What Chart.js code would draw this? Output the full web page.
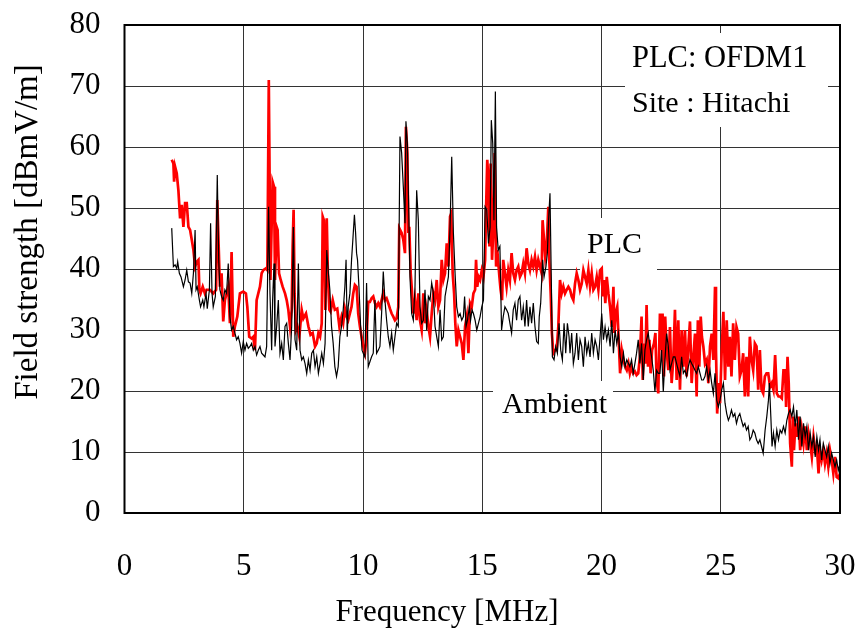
<!DOCTYPE html>
<html>
<head>
<meta charset="utf-8">
<script src="https://cdn.jsdelivr.net/npm/chart.js@4.4.1/dist/chart.umd.min.js"></script>
<style>
html,body{margin:0;padding:0;background:#fff;}
#wrap{width:855px;height:629px;position:relative;}
</style>
</head>
<body>
<div id="wrap"><canvas id="c" width="855" height="629"></canvas></div>
<script>
const xTicks = [0, 5, 10, 15, 20, 25, 30];
const yTicks = [0, 10, 20, 30, 40, 50, 60, 70, 80];

const plcFreq = [1.98,2.05,2.08,2.12,2.19,2.26,2.33,2.40,2.47,2.54,2.61,2.68,2.75,2.82,2.89,2.96,3.03,3.10,3.14,3.19,3.28,3.37,3.44,3.58,3.72,3.84,3.89,4.00,4.07,4.14,4.21,4.28,4.35,4.42,4.49,4.56,4.63,4.73,4.84,4.98,5.09,5.15,5.23,5.33,5.40,5.47,5.54,5.61,5.68,5.75,5.82,5.93,5.99,6.05,6.12,6.21,6.27,6.31,6.38,6.42,6.48,6.55,6.63,6.73,6.80,6.87,6.94,7.01,7.05,7.09,7.13,7.19,7.25,7.33,7.43,7.50,7.61,7.71,7.80,7.89,7.99,8.06,8.13,8.20,8.27,8.31,8.36,8.42,8.48,8.53,8.59,8.64,8.73,8.82,8.92,9.01,9.10,9.17,9.24,9.31,9.38,9.45,9.52,9.59,9.66,9.73,9.80,9.87,9.94,10.01,10.08,10.15,10.22,10.29,10.36,10.43,10.50,10.57,10.64,10.71,10.78,10.85,10.92,10.99,11.06,11.13,11.20,11.27,11.34,11.41,11.48,11.52,11.62,11.69,11.76,11.80,11.86,11.90,11.94,12.00,12.04,12.11,12.18,12.25,12.32,12.39,12.46,12.53,12.60,12.67,12.74,12.81,12.88,12.95,13.02,13.09,13.16,13.23,13.30,13.37,13.44,13.51,13.58,13.65,13.70,13.76,13.82,13.87,13.93,14.00,14.07,14.14,14.21,14.28,14.35,14.42,14.49,14.56,14.63,14.70,14.74,14.79,14.85,14.91,14.98,15.05,15.12,15.16,15.21,15.27,15.30,15.35,15.41,15.46,15.52,15.58,15.63,15.72,15.77,15.83,15.88,15.95,16.02,16.09,16.16,16.23,16.30,16.37,16.44,16.51,16.58,16.65,16.72,16.79,16.86,16.93,17.00,17.07,17.14,17.21,17.28,17.35,17.42,17.49,17.53,17.59,17.64,17.70,17.77,17.81,17.87,17.92,17.98,18.05,18.12,18.19,18.26,18.33,18.40,18.47,18.54,18.61,18.68,18.75,18.82,18.89,18.96,19.03,19.10,19.17,19.24,19.31,19.38,19.45,19.52,19.59,19.66,19.73,19.80,19.87,19.94,20.01,20.05,20.10,20.16,20.22,20.29,20.36,20.43,20.50,20.54,20.59,20.66,20.72,20.78,20.85,20.92,20.99,21.06,21.13,21.19,21.26,21.33,21.40,21.47,21.54,21.61,21.68,21.73,21.78,21.84,21.89,21.95,22.01,22.06,22.12,22.20,22.26,22.31,22.38,22.45,22.52,22.56,22.62,22.67,22.73,22.80,22.87,22.94,23.01,23.08,23.15,23.22,23.29,23.36,23.43,23.50,23.57,23.64,23.71,23.78,23.85,23.92,23.99,24.04,24.10,24.16,24.21,24.27,24.34,24.41,24.48,24.55,24.62,24.69,24.76,24.80,24.85,24.91,24.97,25.04,25.11,25.18,25.25,25.32,25.38,25.45,25.52,25.59,25.66,25.73,25.80,25.87,25.94,26.01,26.08,26.15,26.22,26.29,26.36,26.43,26.50,26.57,26.64,26.71,26.78,26.85,26.92,26.99,27.07,27.14,27.21,27.28,27.35,27.42,27.49,27.56,27.63,27.70,27.74,27.80,27.85,27.91,27.98,28.02,28.07,28.13,28.19,28.26,28.33,28.40,28.47,28.54,28.61,28.68,28.75,28.82,28.89,28.96,29.03,29.10,29.16,29.23,29.30,29.37,29.44,29.51,29.58,29.65,29.72,29.79,29.86,29.93,30.00];
const plcLevel = [57.9,57.3,54.3,56.8,55.7,52.9,48.3,50.5,46.9,50.8,50.8,46.9,46.4,44.8,43.1,40.4,41.2,41.5,36.6,36.0,37.1,36.0,36.6,36.6,36.0,36.6,51.3,37.1,39.3,31.4,34.9,36.0,37.1,31.1,42.8,28.9,30.6,32.2,36.0,36.3,36.0,33.8,28.9,28.6,28.9,26.7,34.9,36.0,37.1,39.3,39.8,40.1,39.8,71.0,38.2,54.3,53.5,38.2,46.9,46.4,39.3,38.2,37.1,36.0,34.9,33.3,30.6,33.3,43.7,49.7,36.0,30.0,30.6,28.9,33.3,31.9,32.7,30.6,29.2,29.5,27.3,27.8,29.5,28.9,31.1,48.6,48.0,33.3,48.3,38.7,33.3,33.0,34.9,33.3,33.5,30.6,32.2,31.1,33.5,32.2,31.6,32.7,33.8,36.0,37.4,37.1,32.7,30.6,28.9,27.3,26.2,28.9,34.6,34.6,35.2,35.5,34.4,33.8,34.4,33.8,34.9,36.0,34.9,35.2,34.4,33.5,32.7,32.2,31.6,31.9,33.8,46.7,45.9,44.8,42.6,63.3,59.0,45.9,46.9,39.3,37.1,32.7,34.9,31.6,36.0,31.6,30.0,36.0,31.1,33.3,30.6,28.9,32.7,36.0,34.9,38.2,33.8,34.9,41.5,38.2,39.3,44.2,40.4,48.6,49.1,39.3,36.0,31.1,27.3,30.0,28.9,27.8,25.1,30.6,32.2,26.2,34.4,33.8,36.0,36.6,41.5,37.1,38.7,38.2,39.8,38.7,41.5,49.7,57.9,53.5,43.7,57.3,41.5,45.9,59.0,40.4,43.1,38.7,36.6,34.9,41.5,39.3,37.1,39.8,38.2,42.6,39.3,38.2,39.8,40.4,38.7,39.3,40.9,39.3,43.4,40.9,39.8,41.5,40.4,42.0,39.8,41.5,40.4,39.3,48.0,44.8,42.0,43.7,50.2,41.5,36.0,29.5,26.2,26.7,26.7,30.6,38.2,36.0,37.1,36.0,36.6,37.1,36.6,35.5,34.9,37.6,39.3,38.2,36.6,37.6,39.8,38.7,37.6,39.8,37.1,39.3,36.6,37.1,38.7,36.6,39.8,40.1,35.5,38.2,34.4,38.7,36.0,33.8,30.5,37.1,29.5,32.7,33.8,28.4,22.9,26.7,25.1,24.0,23.4,24.5,22.9,24.0,22.9,23.2,22.6,22.9,25.6,32.2,21.8,27.8,24.5,34.1,24.0,28.4,22.9,26.7,27.8,29.5,21.8,19.6,32.7,26.7,32.7,22.4,32.2,26.7,23.4,30.5,21.3,25.1,33.3,21.8,31.6,20.2,30.0,24.0,30.0,22.4,27.3,31.4,21.3,25.6,29.4,19.1,31.6,24.0,32.2,28.9,27.3,24.5,25.1,21.3,27.3,29.4,25.1,37.1,26.7,16.3,21.3,18.0,26.7,33.0,21.8,31.6,24.0,28.9,22.4,31.1,25.1,30.5,29.4,22.4,23.4,26.2,19.1,25.6,19.1,28.9,25.1,23.4,27.8,27.3,20.2,26.7,20.2,19.6,22.4,22.9,22.9,20.7,21.3,20.2,25.9,19.6,19.1,19.1,18.8,23.4,23.4,17.4,25.6,21.3,11.4,7.6,15.8,10.3,14.7,12.5,15.8,10.3,13.6,11.4,14.2,10.3,13.1,11.4,9.2,12.5,10.3,10.9,6.5,10.3,8.7,10.3,8.1,9.8,7.6,10.3,8.7,6.5,9.2,5.9,5.7,6.5];

const ambFreq = [1.98,2.05,2.12,2.19,2.23,2.30,2.37,2.47,2.54,2.61,2.68,2.75,2.82,2.89,2.96,3.00,3.05,3.14,3.19,3.28,3.33,3.42,3.47,3.56,3.61,3.67,3.72,3.81,3.89,3.95,4.00,4.07,4.14,4.21,4.28,4.35,4.42,4.49,4.56,4.63,4.70,4.77,4.84,4.91,4.98,5.05,5.12,5.19,5.26,5.33,5.40,5.47,5.54,5.61,5.68,5.75,5.82,5.89,5.96,6.04,6.10,6.17,6.21,6.27,6.31,6.38,6.45,6.52,6.59,6.66,6.73,6.80,6.87,6.94,7.01,7.08,7.15,7.22,7.29,7.36,7.43,7.50,7.57,7.64,7.71,7.78,7.85,7.92,7.99,8.06,8.13,8.20,8.27,8.34,8.41,8.48,8.55,8.61,8.68,8.75,8.82,8.89,8.96,9.03,9.10,9.17,9.24,9.29,9.34,9.38,9.45,9.52,9.57,9.64,9.69,9.73,9.77,9.83,9.90,9.96,10.01,10.08,10.15,10.22,10.29,10.36,10.43,10.50,10.57,10.64,10.71,10.78,10.85,10.92,10.99,11.06,11.13,11.20,11.27,11.34,11.41,11.48,11.55,11.62,11.69,11.76,11.80,11.86,11.91,11.97,12.04,12.11,12.18,12.25,12.32,12.39,12.46,12.53,12.60,12.67,12.74,12.81,12.88,12.95,13.02,13.09,13.16,13.23,13.30,13.37,13.44,13.51,13.58,13.65,13.72,13.79,13.86,13.93,14.00,14.07,14.14,14.21,14.26,14.32,14.38,14.46,14.51,14.57,14.63,14.70,14.77,14.84,14.91,14.98,15.05,15.12,15.19,15.26,15.33,15.38,15.44,15.49,15.55,15.60,15.67,15.74,15.81,15.88,15.95,16.02,16.09,16.16,16.23,16.30,16.37,16.44,16.51,16.58,16.65,16.72,16.79,16.86,16.93,17.00,17.07,17.14,17.21,17.28,17.35,17.39,17.45,17.53,17.59,17.67,17.73,17.78,17.84,17.90,17.94,18.01,18.08,18.15,18.22,18.29,18.36,18.43,18.50,18.57,18.64,18.68,18.75,18.82,18.89,18.96,19.03,19.10,19.17,19.24,19.31,19.38,19.45,19.52,19.59,19.66,19.73,19.80,19.87,19.94,20.01,20.08,20.15,20.22,20.29,20.36,20.43,20.50,20.57,20.64,20.71,20.78,20.85,20.92,20.99,21.06,21.13,21.19,21.26,21.33,21.40,21.47,21.54,21.61,21.68,21.75,21.82,21.89,21.96,22.03,22.10,22.17,22.24,22.31,22.38,22.45,22.52,22.59,22.66,22.73,22.80,22.87,22.94,23.01,23.08,23.15,23.22,23.29,23.36,23.43,23.50,23.57,23.64,23.71,23.78,23.85,23.92,23.99,24.06,24.13,24.20,24.27,24.34,24.41,24.48,24.55,24.62,24.69,24.76,24.83,24.90,24.97,25.04,25.11,25.18,25.25,25.32,25.38,25.45,25.52,25.59,25.66,25.73,25.80,25.87,25.94,26.01,26.08,26.15,26.22,26.29,26.36,26.43,26.50,26.57,26.64,26.71,26.78,26.86,26.93,27.00,27.04,27.10,27.15,27.21,27.28,27.35,27.42,27.49,27.56,27.63,27.70,27.77,27.84,27.91,27.98,28.05,28.12,28.19,28.26,28.33,28.40,28.47,28.54,28.61,28.68,28.75,28.82,28.89,28.96,29.03,29.10,29.16,29.23,29.30,29.37,29.44,29.51,29.58,29.65,29.72,29.79,29.86,29.93,30.00];
const ambLevel = [46.7,40.4,40.7,40.1,41.2,39.3,38.7,37.1,38.2,39.8,37.9,37.7,36.0,39.3,46.4,36.6,37.1,34.9,33.8,34.9,33.8,36.0,33.5,36.6,47.5,36.0,33.8,35.5,55.4,41.5,36.6,35.5,34.9,36.6,36.0,40.9,32.2,30.0,30.6,29.5,28.4,28.9,27.8,26.2,28.1,26.7,27.8,27.0,27.3,27.8,26.7,27.3,25.9,26.7,27.3,26.2,25.9,25.6,27.3,50.2,36.0,26.7,34.9,40.9,27.3,30.6,34.9,26.2,27.8,25.1,30.6,31.1,27.8,25.1,30.6,46.9,28.4,26.7,40.9,26.7,25.1,25.6,24.5,22.9,25.1,23.4,26.2,26.7,24.0,25.6,22.9,24.5,26.2,24.5,27.8,43.1,39.3,36.6,30.6,27.8,24.0,22.4,24.0,28.9,30.6,33.3,37.1,41.5,28.9,33.8,36.0,41.5,44.5,48.9,45.9,42.6,41.5,37.1,30.6,26.7,26.2,25.6,37.7,24.0,24.8,25.6,26.2,34.9,26.2,26.7,27.3,32.7,39.6,34.9,31.6,28.9,27.3,29.5,26.7,28.9,31.1,30.6,61.7,59.0,53.5,47.5,64.2,60.6,51.3,38.7,32.7,31.6,37.1,52.9,48.0,33.8,31.1,31.6,36.6,30.0,35.5,34.9,37.7,36.0,30.6,28.9,27.3,33.3,28.4,28.9,35.5,37.1,38.7,46.9,58.4,45.9,39.3,33.8,32.2,32.7,31.6,32.2,35.5,30.6,31.6,33.8,31.6,33.3,32.7,31.6,30.0,31.1,32.2,33.8,34.9,50.2,49.7,44.2,46.9,64.4,60.6,48.0,69.1,46.9,43.1,43.7,30.0,32.2,33.8,33.3,32.7,31.1,29.5,33.3,34.4,31.6,34.9,35.5,31.6,33.8,30.6,34.9,30.6,33.8,31.1,34.4,30.6,28.1,27.8,32.2,34.4,41.5,38.7,40.4,42.6,48.0,52.4,37.1,25.6,25.1,27.3,26.2,31.1,26.7,25.1,31.1,26.2,31.1,28.9,26.2,29.5,24.5,26.2,29.5,25.1,28.4,27.3,24.0,28.9,26.2,27.8,25.6,29.5,26.2,28.4,27.3,25.1,28.9,32.7,28.4,30.5,28.4,30.0,27.3,31.6,26.2,30.0,27.8,29.5,25.6,24.0,26.2,24.0,25.1,24.5,24.0,25.1,22.9,24.5,26.2,28.4,24.5,27.8,21.8,26.7,28.4,29.5,27.3,25.6,23.4,19.9,23.4,22.9,22.9,26.7,19.9,25.1,29.4,27.3,23.4,24.5,25.6,25.6,24.5,23.4,22.4,25.6,22.9,23.4,22.4,24.0,25.1,24.5,24.0,23.4,22.9,24.0,22.9,21.8,21.8,22.4,24.0,21.8,23.4,21.3,19.6,22.9,18.5,17.4,18.5,20.2,21.3,18.0,16.3,15.2,15.8,16.9,15.8,16.3,14.7,15.8,16.3,15.2,14.2,14.7,13.6,14.2,12.0,12.5,13.6,13.1,12.0,11.4,12.0,10.9,9.8,13.6,15.8,18.5,21.3,15.8,10.9,13.1,10.9,13.6,12.0,13.6,13.1,14.2,13.1,15.2,16.3,16.9,15.8,17.4,14.2,16.9,12.0,15.8,10.9,14.7,12.5,14.2,10.3,13.1,10.9,12.5,9.2,12.5,10.3,12.0,8.7,11.4,10.3,9.2,10.9,8.1,9.8,8.7,7.6,8.7,7.0,8.1];

const FONT = "'Liberation Serif', 'Times New Roman', serif";

function pts(fx, fy) { return fx.map((f, i) => ({ x: f, y: fy[i] })); }

const decor = {
  id: 'decor',
  beforeDatasetsDraw(chart) {
    const ctx = chart.ctx;
    ctx.save();
    ctx.fillStyle = '#ffffff';
    ctx.fillRect(625, 33, 203, 94);   // info box
    ctx.fillRect(580, 218, 77, 52);   // PLC label
    ctx.fillRect(493, 381, 120, 49);  // Ambient label
    ctx.restore();
  },
  afterDraw(chart) {
    const ctx = chart.ctx, a = chart.chartArea;
    ctx.save();
    ctx.strokeStyle = '#000';
    ctx.lineWidth = 2;
    ctx.strokeRect(a.left, a.top, a.right - a.left, a.bottom - a.top);
    ctx.fillStyle = '#000';
    ctx.textBaseline = 'alphabetic';
    ctx.textAlign = 'left';
    ctx.font = '30.5px ' + FONT;
    ctx.fillText('PLC: OFDM1', 632, 67);
    ctx.font = '30px ' + FONT;
    ctx.fillText('Site : Hitachi', 632, 112);
    ctx.fillText('PLC', 587, 253);
    ctx.fillText('Ambient', 502, 413);
    ctx.font = '31px ' + FONT;
    ctx.textAlign = 'center';
    ctx.fillText('Frequency [MHz]', 447, 621);
    ctx.font = '33px ' + FONT;
    ctx.translate(37, 232);
    ctx.rotate(-Math.PI / 2);
    ctx.fillText('Field strength [dBmV/m]', 0, 0);
    ctx.restore();
  }
};

new Chart(document.getElementById('c'), {
  type: 'line',
  data: {
    datasets: [
      { label: 'Ambient', data: pts(ambFreq, ambLevel), borderColor: '#000000', borderWidth: 1.2, pointRadius: 0, tension: 0, fill: false },
      { label: 'PLC', data: pts(plcFreq, plcLevel), borderColor: '#ff0000', borderWidth: 2.7, pointRadius: 0, tension: 0, fill: false }
    ]
  },
  options: {
    responsive: false,
    animation: false,
    devicePixelRatio: 1,
    layout: { autoPadding: false, padding: { top: 25, right: 15, left: 0, bottom: 0 } },
    plugins: { legend: { display: false }, tooltip: { enabled: false } },
    scales: {
      x: {
        type: 'linear', min: 0, max: 30,
        afterBuildTicks: s => { s.ticks = xTicks.map(v => ({ value: v })); },
        afterFit: s => { s.height = 116; s.paddingLeft = 0; s.paddingRight = 0; },
        grid: { color: '#333333', lineWidth: 1, drawTicks: false },
        border: { display: false },
        ticks: { color: '#000', padding: 35, maxRotation: 0, font: { family: FONT, size: 31 } }
      },
      y: {
        type: 'linear', min: 0, max: 80,
        afterBuildTicks: s => { s.ticks = yTicks.map(v => ({ value: v })); },
        afterFit: s => { s.width = 124.5; s.paddingTop = 0; s.paddingBottom = 0; },
        grid: { color: '#333333', lineWidth: 1, drawTicks: false },
        border: { display: false },
        ticks: { color: '#000', padding: 24, font: { family: FONT, size: 31 } }
      }
    }
  },
  plugins: [decor]
});
</script>
</body>
</html>
